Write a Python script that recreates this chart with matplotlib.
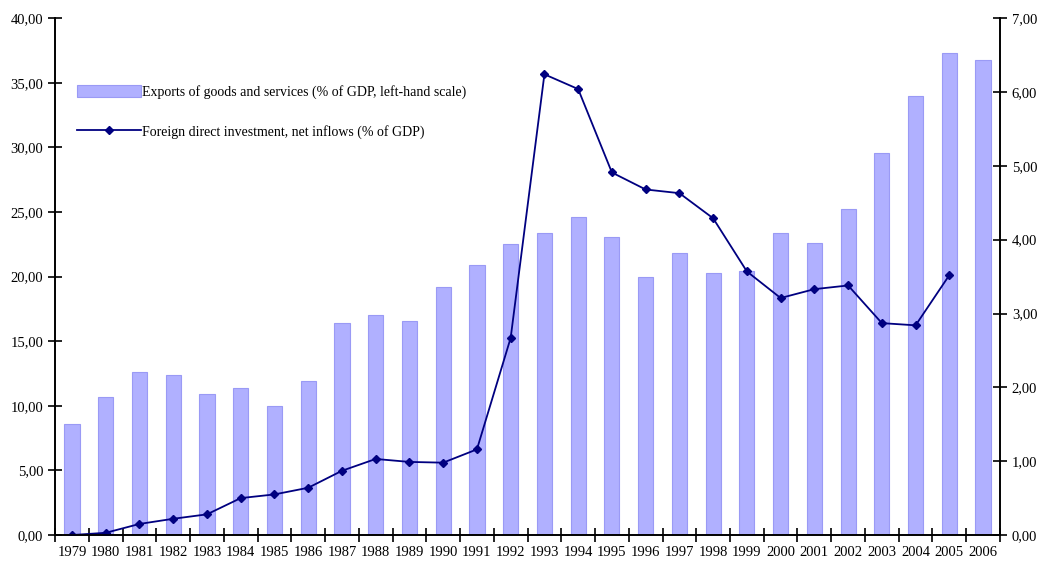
#Exports and FDI as share of GDP, 1979-2006
import matplotlib.pyplot as plt
import numpy as np
from matplotlib.ticker import FuncFormatter

plt.rcParams['font.family'] = ['Liberation Serif', 'DejaVu Serif']

years = list(range(1979, 2007))
exports = [8.6, 10.7, 12.6, 12.4, 10.9, 11.4, 10.0, 11.9, 16.4, 17.0, 16.6, 19.2,
           20.9, 22.5, 23.4, 24.6, 23.1, 20.0, 21.8, 20.3, 20.4, 23.4, 22.6, 25.2,
           29.6, 34.0, 37.3, 36.8]
fdi = [0.00, 0.03, 0.15, 0.22, 0.28, 0.50, 0.55, 0.64, 0.87, 1.03, 0.99, 0.98,
       1.16, 2.67, 6.24, 6.04, 4.91, 4.68, 4.63, 4.29, 3.57, 3.21, 3.33, 3.38,
       2.87, 2.84, 3.52]

x = np.arange(len(years))

def comma(v, pos):
    return ('%.2f' % v).replace('.', ',')

fig = plt.figure(figsize=(10.4, 5.63), dpi=100)
ax = fig.add_axes([0.053, 0.0497, 0.9085, 0.918])
ax2 = ax.twinx()

bars = ax.bar(x, exports, width=0.45, color='#b0b0ff', edgecolor='#9a9af5', linewidth=0.8,
              label='Exports of goods and services (% of GDP, left-hand scale)')
line, = ax2.plot(x[:len(fdi)], fdi, color='#000080', marker='D', markersize=4.5, linewidth=1.3,
                 label='Foreign direct investment, net inflows (% of GDP)')

ax.set_xlim(-0.5, len(years) - 0.5)
ax.set_ylim(0, 40)
ax2.set_ylim(0, 7)
ax.set_yticks(np.arange(0, 41, 5))
ax2.set_yticks(np.arange(0, 8, 1))
ax.yaxis.set_major_formatter(FuncFormatter(comma))
ax2.yaxis.set_major_formatter(FuncFormatter(comma))

#labels centred under bars, tick marks between them
ax.set_xticks(x)
ax.set_xticklabels([str(y) for y in years])
ax.set_xticks(np.arange(-0.5, len(years)), minor=True)
ax.tick_params(axis='x', which='major', length=0, labelsize=10.5, pad=8)
ax.tick_params(axis='x', which='minor', direction='inout', length=10, width=1.2)
ax.tick_params(axis='y', direction='inout', length=10, width=1.2, labelsize=10.5)
ax2.tick_params(axis='y', direction='inout', length=10, width=1.2, labelsize=10.5)

for a in (ax, ax2):
    a.spines['top'].set_visible(False)
    for s in ('left', 'right', 'bottom'):
        a.spines[s].set_linewidth(1.2)

ax.legend([bars, line], [bars.get_label(), line.get_label()], loc='upper left',
          bbox_to_anchor=(0.01, 0.895), frameon=False, fontsize=10, labelspacing=1.85,
          handlelength=4.6, handleheight=1.0, handletextpad=0.1)

fig.savefig('out.png', dpi=100)
